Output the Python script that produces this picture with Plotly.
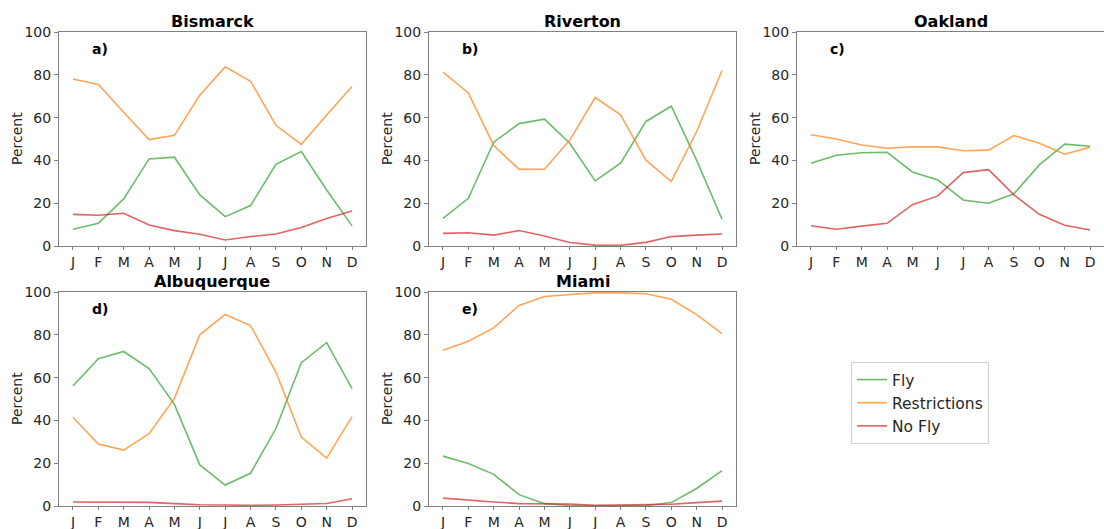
import plotly.graph_objects as go

months = ["J", "F", "M", "A", "M", "J", "J", "A", "S", "O", "N", "D"]
cities = ["Bismarck", "Riverton", "Oakland", "Albuquerque", "Miami"]
panel_labels = ["a)", "b)", "c)", "d)", "e)"]

bismarck_fly = [7.8, 10.6, 22.0, 40.7, 41.5, 23.9, 13.7, 18.9, 38.2, 44.1, 26.2, 9.4]
bismarck_restr = [78.0, 75.5, 62.5, 49.7, 51.7, 70.5, 83.7, 77.0, 56.4, 47.5, 61.2, 74.5]
bismarck_nofly = [14.8, 14.4, 15.3, 9.8, 7.2, 5.5, 2.8, 4.4, 5.6, 8.6, 12.9, 16.4]

riverton_fly = [12.9, 22.3, 48.5, 57.2, 59.3, 48.0, 30.4, 38.7, 58.2, 65.3, 40.0, 12.5]
riverton_restr = [81.2, 71.5, 47.0, 35.8, 35.9, 49.5, 69.4, 61.3, 40.1, 30.1, 53.5, 82.0]
riverton_nofly = [5.9, 6.2, 5.1, 7.2, 4.7, 1.6, 0.4, 0.3, 1.7, 4.4, 5.1, 5.6]

oakland_fly = [38.7, 42.4, 43.6, 43.8, 34.6, 30.9, 21.5, 20.0, 24.4, 37.9, 47.6, 46.6]
oakland_restr = [52.0, 50.0, 47.2, 45.7, 46.3, 46.3, 44.5, 44.8, 51.6, 48.0, 42.9, 46.2]
oakland_nofly = [9.5, 7.8, 9.3, 10.6, 19.3, 23.4, 34.3, 35.7, 23.9, 14.8, 9.7, 7.5]

albuquerque_fly = [56.1, 68.8, 72.2, 64.2, 47.5, 19.2, 9.8, 15.3, 36.2, 67.0, 76.3, 54.8]
albuquerque_restr = [41.5, 29.0, 26.1, 33.8, 50.3, 80.0, 89.5, 84.3, 62.6, 32.2, 22.4, 41.8]
albuquerque_nofly = [1.9, 1.8, 1.7, 1.7, 1.1, 0.6, 0.5, 0.3, 0.5, 0.8, 1.2, 3.4]

miami_fly = [23.3, 19.9, 14.8, 5.3, 1.1, 0.3, 0.0, 0.0, 0.2, 1.6, 8.2, 16.5]
miami_restr = [72.8, 77.0, 83.2, 93.7, 97.9, 98.8, 99.7, 99.6, 99.2, 96.6, 89.4, 80.6]
miami_nofly = [3.7, 2.7, 1.9, 1.1, 1.1, 0.9, 0.3, 0.5, 0.5, 0.8, 1.6, 2.3]

series = [
    (bismarck_fly, bismarck_restr, bismarck_nofly),
    (riverton_fly, riverton_restr, riverton_nofly),
    (oakland_fly, oakland_restr, oakland_nofly),
    (albuquerque_fly, albuquerque_restr, albuquerque_nofly),
    (miami_fly, miami_restr, miami_nofly),
]
names = ["Fly", "Restrictions", "No Fly"]
colors = ["rgba(44,160,44,0.7)", "rgba(255,127,14,0.7)", "rgba(214,39,40,0.72)"]

W, H = 1104, 529
# pixel boxes (left, right, top, bottom)
boxes = [
    (59, 366, 32, 246),
    (429, 736, 32, 246),
    (797, 1104, 32, 246),
    (59, 366, 292, 506),
    (429, 736, 292, 506),
]

FONT = "DejaVu Sans"
TXT = "#262626"
AX = "#808080"

fig = go.Figure()
xs = list(range(12))
for i, (city, vals) in enumerate(zip(cities, series)):
    xa = "x" if i == 0 else f"x{i+1}"
    ya = "y" if i == 0 else f"y{i+1}"
    for j in range(3):
        fig.add_trace(go.Scatter(
            x=xs, y=vals[j], mode="lines", name=names[j],
            line=dict(color=colors[j], width=1.6),
            xaxis=xa, yaxis=ya, showlegend=(i == 0),
        ))
    l, r, t, b = boxes[i]
    xkey = "xaxis" if i == 0 else f"xaxis{i+1}"
    ykey = "yaxis" if i == 0 else f"yaxis{i+1}"
    fig.update_layout(**{
        xkey: dict(
            domain=[l / W, r / W], anchor=ya, range=[-0.55, 11.55],
            tickmode="array", tickvals=xs, ticktext=months,
            showline=True, mirror=True, linecolor=AX, linewidth=1,
            ticks="outside", ticklen=3, tickcolor=AX,
            showgrid=False, zeroline=False, automargin=False,
            tickfont=dict(family=FONT, size=14, color=TXT),
        ),
        ykey: dict(
            domain=[(H - b) / H, (H - t) / H], anchor=xa, range=[0, 100],
            tickvals=[0, 20, 40, 60, 80, 100],
            showline=True, mirror=True, linecolor=AX, linewidth=1,
            ticks="outside", ticklen=4, tickcolor=AX,
            showgrid=False, zeroline=False, automargin=False,
            tickfont=dict(family=FONT, size=14, color=TXT),
        ),
    })
    xd = f"{xa} domain"
    yd = f"{ya} domain"
    width = r - l
    height = b - t
    # title
    fig.add_annotation(
        text=f"<b>{city}</b>", xref=xd, yref=yd, x=0.5, y=1 + 10.5 / height,
        xanchor="center", yanchor="middle", showarrow=False,
        font=dict(family=FONT, size=16, color="black"),
    )
    # panel label
    fig.add_annotation(
        text=f"<b>{panel_labels[i]}</b>", xref=xd, yref=yd,
        x=31 / width, y=1 - 17 / height, xanchor="left", yanchor="middle",
        showarrow=False, font=dict(family=FONT, size=14, color="black"),
    )
    # y-axis label
    fig.add_annotation(
        text="Percent", xref=xd, yref=yd, x=-42 / width, y=0.5,
        xanchor="center", yanchor="middle", textangle=-90,
        showarrow=False, font=dict(family=FONT, size=14, color=TXT),
    )

fig.update_layout(
    width=W, height=H,
    margin=dict(l=0, r=0, t=0, b=0, autoexpand=False),
    paper_bgcolor="white", plot_bgcolor="white",
    showlegend=True,
    legend=dict(
        x=851 / W, y=(H - 362) / H, xanchor="left", yanchor="top",
        bordercolor="#d0d0d0", borderwidth=1, bgcolor="white",
        font=dict(family=FONT, size=15.5, color=TXT),
        tracegroupgap=0,
    ),
    font=dict(family=FONT, color=TXT),
)

fig.write_html("out.html")
